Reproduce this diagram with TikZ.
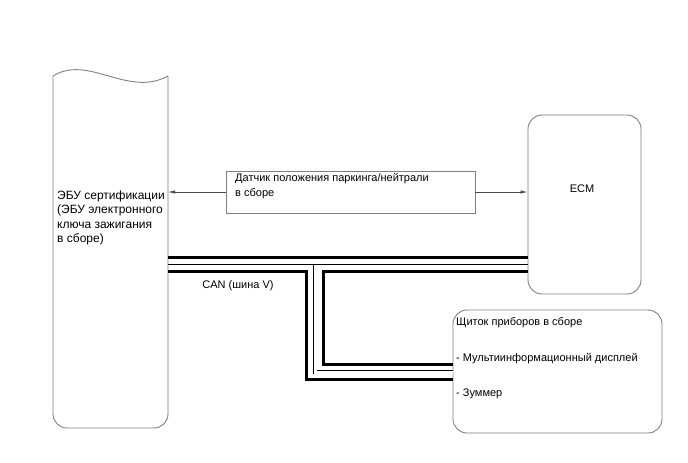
\documentclass[tikz,border=0pt]{standalone}
\usepackage{fontspec}
\setmainfont{Liberation Sans}
\usetikzlibrary{arrows.meta}
\begin{document}
\begin{tikzpicture}[x=1pt,y=-1pt,
  font=\fontsize{11}{14}\selectfont,
  rbox/.style={draw=black!50, line width=0.9pt, rounded corners=14pt, inner sep=0pt},
  sbox/.style={draw=black!50, line width=0.9pt, inner sep=0pt},
  lbl/.style={anchor=base west, inner sep=0pt},
  elbl/.style={anchor=base west, inner sep=0pt, font=\fontsize{12}{14}\selectfont},
  arr/.style={draw=black!70, line width=0.8pt, -{Latex[length=7pt,width=3.5pt]}},
  thickw/.style={line width=3pt, line join=miter, line cap=butt},
  thinw/.style={line width=1pt},
  dblw/.style={draw=black, double=white, double distance=3pt, line width=0.9pt, line join=miter}]
\useasboundingbox (0,0) rectangle (688,463);
% ECU shape
\draw[draw=black!50, line width=0.9pt, rounded corners=14pt]
  (168,76) -- (168,428) -- (53,428) -- (53,76);
\draw[draw=black!50, line width=0.9pt]
  (53,76) .. controls (88,54) and (128,98) .. (168,76);
\coordinate (ecuR) at (168,192);
\coordinate (busL) at (168,264.5);
\node[elbl] (e1) at (57,199) {ЭБУ сертификации};
\node[elbl] (e2) at (57,213.5) {(ЭБУ электронного};
\node[elbl] (e3) at (57,228) {ключа зажигания};
\node[elbl] (e4) at (57,242.5) {в сборе)};
% ECM
\node[rbox, minimum width=113pt, minimum height=179pt] (ecm) at (584.5,204.5) {};
\node[inner sep=0pt, anchor=base] (ecmt) at (582,192) {ECM};
% sensor
\node[sbox, minimum width=249pt, minimum height=42pt] (sens) at (350.5,192) {};
\node[lbl] (s1) at (235,181) {Датчик положения паркинга/нейтрали};
\node[lbl] (s2) at (235,196) {в сборе};
\draw[arr] (sens.west) -- (ecuR);
\draw[arr] (sens.east) -- (sens.east -| ecm.west);
% cluster
\node[rbox, minimum width=209pt, minimum height=123pt] (clu) at (557.5,371.5) {};
\node[lbl] (c1) at (456,325) {Щиток приборов в сборе};
\node[lbl] (c2) at (456,361) {- Мультиинформационный дисплей};
\node[lbl] (c3) at (456,396) {- Зуммер};
% CAN bus
\draw[thickw] (busL |- 0,257.5) -- (ecm.west |- 0,257.5);
\draw[thinw] (busL) -- (ecm.west |- busL);
\draw[thickw] (busL |- 0,271.5) -- (306,271.5) -- (306,379.5) -- (clu.west |- 0,379.5);
\draw[thickw] (ecm.west |- 0,271.5) -- (323.5,271.5) -- (323.5,364.5) -- (clu.west |- 0,364.5);
\draw[dblw] (315,264.5) -- (315,372) -- (clu.west |- 0,372);
\node[inner sep=0pt, anchor=base] (can) at (238,288) {CAN (шина V)};
\end{tikzpicture}
\end{document}
